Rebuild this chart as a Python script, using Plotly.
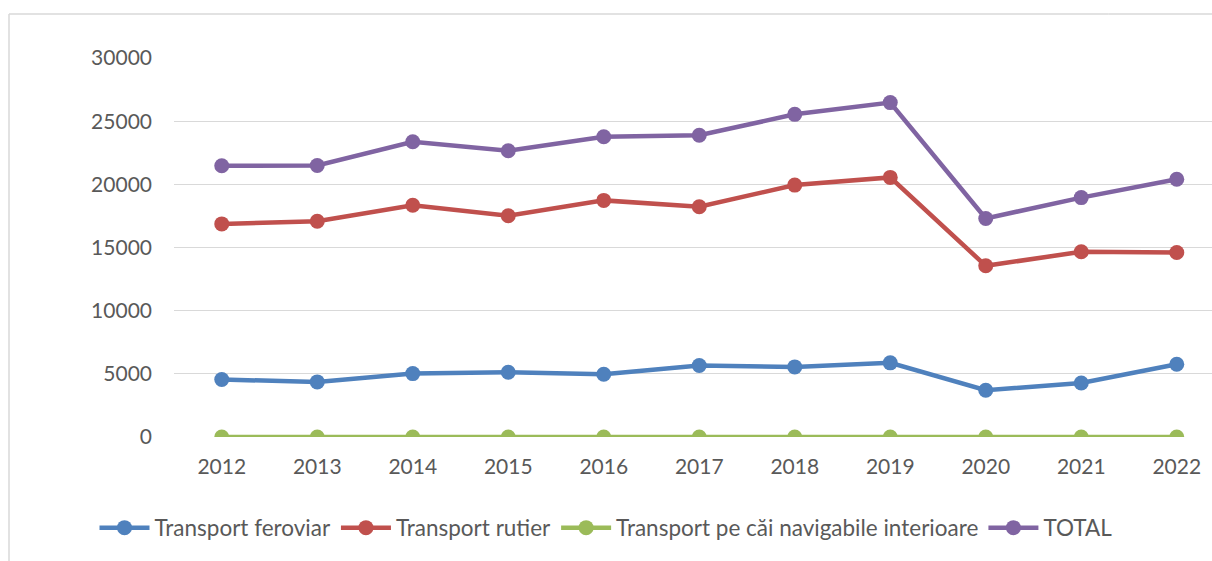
import plotly.graph_objects as go

years = ["2012", "2013", "2014", "2015", "2016", "2017", "2018", "2019", "2020", "2021", "2022"]
feroviar = [4550, 4360, 5020, 5130, 4970, 5660, 5550, 5870, 3700, 4280, 5760]
rutier = [16870, 17080, 18340, 17510, 18730, 18230, 19940, 20550, 13550, 14660, 14610]
navigabile = [0, 0, 0, 0, 0, 0, 0, 0, 0, 0, 0]
total = [21470, 21490, 23370, 22660, 23770, 23880, 25540, 26470, 17300, 18950, 20400]

series = [
    ("Transport feroviar", feroviar, "#4F81BD"),
    ("Transport rutier", rutier, "#C0504D"),
    ("Transport pe căi navigabile interioare", navigabile, "#9BBB59"),
    ("TOTAL", total, "#8064A2"),
]

W, H = 1212, 561
L, T, B = 174, 58, 124
FONT = "Lato"
GREY = "#595959"
BORDER = "#D9D9D9"

fig = go.Figure()
for name, vals, col in series:
    fig.add_trace(go.Scatter(
        x=list(range(len(years))), y=vals, name=name, mode="lines+markers",
        line=dict(color=col, width=4.5),
        marker=dict(color=col, size=15),
    ))

# plot area runs past the right edge of the picture, like the source
step = 95.5
x_end = (W - L) / step - 0.5
plot_w, plot_h = W - L, H - T - B
bx = (9 - L) / plot_w
by = (H - B - 14) / plot_h

fig.update_layout(
    width=W, height=H,
    margin=dict(l=L, r=0, t=T, b=B),
    paper_bgcolor="white", plot_bgcolor="white",
    font=dict(family=FONT, size=21, color=GREY),
    showlegend=True,
    legend=dict(orientation="h", x=0.5, xanchor="center", xref="container",
                y=1 - 528 / H, yanchor="middle", yref="container",
                font=dict(family=FONT, size=22.5, color=GREY),
                itemwidth=50, tracegroupgap=0),
    # chart-area border: only its top and left edges fall inside the picture
    shapes=[
        dict(type="line", xref="paper", yref="paper", x0=bx, x1=0.9, y0=by, y1=by,
             line=dict(color=BORDER, width=1.5), layer="below"),
        dict(type="line", xref="paper", yref="paper", x0=0.9, x1=1, y0=by, y1=by,
             line=dict(color=BORDER, width=1.5), layer="below"),
        dict(type="line", xref="paper", yref="paper", x0=bx, x1=bx, y0=-0.5, y1=by,
             line=dict(color=BORDER, width=1.5), layer="below"),
    ],
)
fig.update_xaxes(
    range=[-0.5, x_end], tickvals=list(range(len(years))), ticktext=years,
    showgrid=False, zeroline=False, showline=False, ticks="",
    ticklabelstandoff=15,
)
fig.update_yaxes(
    range=[0, 30000], dtick=5000, tickformat="d",
    showgrid=True, gridcolor=BORDER, gridwidth=1.2,
    zeroline=False, showline=False, ticks="", ticklabelstandoff=21,
)

# drop the page's default body margin so the figure fills the window exactly
fig.write_html("out.html", config={"displayModeBar": False},
               post_script="document.body.style.margin='0';document.body.style.overflow='hidden';")
